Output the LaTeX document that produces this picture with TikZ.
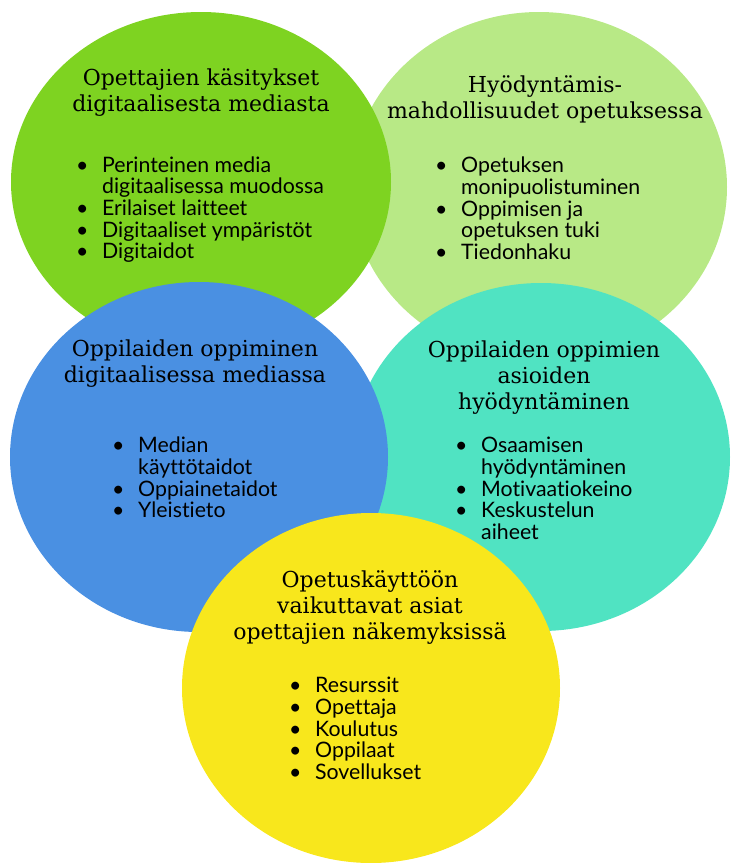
\documentclass[tikz,border=0pt]{standalone}
\usepackage{fontspec}
\setmainfont{DejaVu Serif}
\newfontfamily\listfont{Lato}[Ligatures=NoCommon]
\definecolor{grassgreen}{HTML}{7ED321}
\definecolor{palegreen}{HTML}{B8E986}
\definecolor{skyblue}{HTML}{4A90E2}
\definecolor{mint}{HTML}{50E3C2}
\definecolor{sunyellow}{HTML}{F8E71C}
\newcommand{\bulitem}[1]{\makebox[26pt][l]{\textbullet}#1}
\newcommand{\bulcont}[1]{\hspace*{26pt}#1}
\tikzset{
  heading/.style={align=center, inner sep=0pt, font=\fontsize{22}{26}\selectfont},
  points/.style={align=left, inner sep=0pt, anchor=west, font=\listfont\fontsize{21.3}{21.7}\selectfont},
}
\begin{document}
\begin{tikzpicture}[x=1pt,y=-1pt]
 \useasboundingbox (0,0) rectangle (734,863);
 % bubbles, back to front
 \fill[palegreen](539,187) ellipse [x radius=188pt, y radius=175pt];
 \fill[grassgreen](201,182) ellipse [x radius=190pt, y radius=170pt];
 \fill[mint](541,457) ellipse [x radius=189pt, y radius=174pt];
 \fill[skyblue](199,457) ellipse [x radius=189pt, y radius=175pt];
 \fill[sunyellow](371,688) ellipse [x radius=189pt, y radius=175pt];
 % texts
 \node[heading] (kasitykset) at (201,93) {Opettajien käsitykset\\digitaalisesta mediasta};
 \node[points] (kasitykset-list) at (76,209.5) {\bulitem{Perinteinen media}\\\bulcont{digitaalisessa muodossa}\\\bulitem{Erilaiset laitteet}\\\bulitem{Digitaaliset ympäristöt}\\\bulitem{Digitaidot}};
 \node[heading] (mahdollisuudet) at (545,99.5) {Hyödyntämis-\\mahdollisuudet opetuksessa};
 \node[points] (mahdollisuudet-list) at (435,208.5) {\bulitem{Opetuksen}\\\bulcont{monipuolistuminen}\\\bulitem{Oppimisen ja}\\\bulcont{opetuksen tuki}\\\bulitem{Tiedonhaku}};
 \node[heading] (oppiminen) at (195,364) {Oppilaiden oppiminen\\digitaalisessa mediassa};
 \node[points] (oppiminen-list) at (112,477.5) {\bulitem{Median}\\\bulcont{käyttötaidot}\\\bulitem{Oppiainetaidot}\\\bulitem{Yleistieto}};
 \node[heading] (asiat) at (544,377.5) {Oppilaiden oppimien\\asioiden\\hyödyntäminen};
 \node[points] (asiat-list) at (455,488.5) {\bulitem{Osaamisen}\\\bulcont{hyödyntäminen}\\\bulitem{Motivaatiokeino}\\\bulitem{Keskustelun}\\\bulcont{aiheet}};
 \node[heading] (opetuskaytto) at (370,607.5) {Opetuskäyttöön\\vaikuttavat asiat\\opettajien näkemyksissä};
 \node[points] (opetuskaytto-list) at (289,728.5) {\bulitem{Resurssit}\\\bulitem{Opettaja}\\\bulitem{Koulutus}\\\bulitem{Oppilaat}\\\bulitem{Sovellukset}};
\end{tikzpicture}
\end{document}
